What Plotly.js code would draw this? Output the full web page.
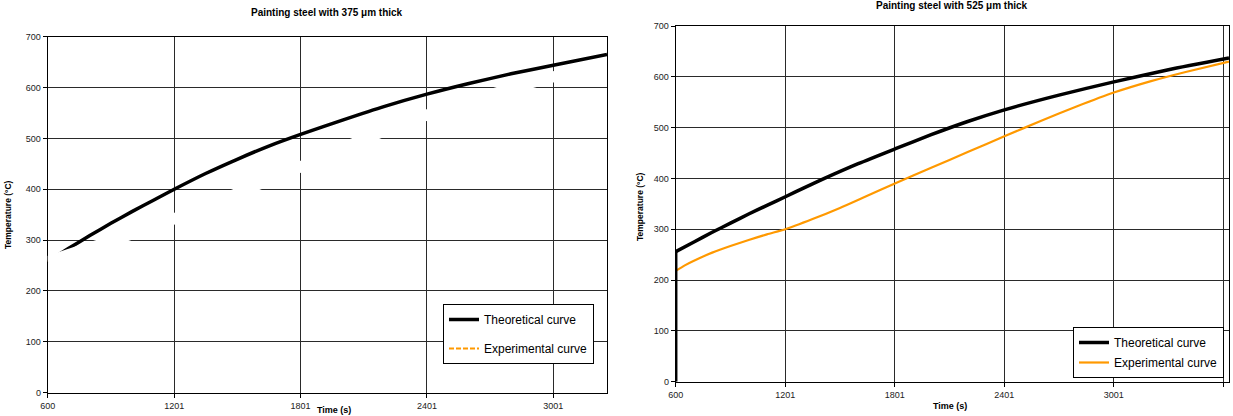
<!DOCTYPE html>
<html>
<head>
<meta charset="utf-8">
<script src="https://cdn.plot.ly/plotly-3.0.1.min.js"></script>
<style>html,body{margin:0;padding:0;background:#fff;}#chart{width:1233px;height:416px;}</style>
</head>
<body>
<div id="chart"></div>
<script>
// ---- Data ----
const leftTitle = "Painting steel with 375 μm thick";
const rightTitle = "Painting steel with 525 μm thick";
const xTitle = "Time (s)";
const yTitle = "Temperature (°C)";
const seriesNames = ["Theoretical curve", "Experimental curve"];

const timeL   = [600, 700, 800, 900, 1000, 1100, 1201, 1350, 1500, 1650, 1801, 2000, 2200, 2401, 2600, 2800, 3001, 3256];
const theoL   = [258, 284, 309, 333, 356, 378, 400, 431, 459, 485, 508, 536, 563, 587, 608, 627, 644, 665];
const expL    = [258, 272, 285, 298, 312, 327, 342, 366, 392, 418, 444, 481, 515, 546, 573, 598, 621, 644];

const timeTheoR = [600, 600, 700, 800, 900, 1000, 1100, 1201, 1300, 1409, 1600, 1801, 2000, 2200, 2401, 2700, 3001, 3300, 3632];
const theoR     = [0, 256, 275, 294, 312, 330, 347, 364, 381, 399, 429, 458, 486, 512, 535, 564, 590, 614, 637];
const timeExpR  = [600, 650, 700, 800, 900, 1000, 1100, 1201, 1350, 1500, 1650, 1801, 2000, 2200, 2401, 2600, 2800, 3001, 3200, 3400, 3632];
const expR      = [218, 229, 238, 254, 267, 279, 290, 300, 320, 342, 366, 390, 421, 452, 483, 513, 542, 569, 591, 610, 630];

const xTicksL = [600, 1201, 1801, 2401, 3001];
const xTicksR = [600, 1201, 1801, 2401, 3001, 3601];
const yTicks  = [0, 100, 200, 300, 400, 500, 600, 700];

// ---- Styles ----
const FONT = "'Liberation Sans', Arial, sans-serif";
const ORANGE = "#ff9900";
const GRID = "#2a2a2a";

const traces = [
  // left chart
  {x: timeL, y: expL, xaxis: "x", yaxis: "y", mode: "lines", name: seriesNames[1],
   line: {color: ORANGE, width: 2, dash: "5px,2px"}, legend: "legend", legendrank: 2, legendgroup: "e1"},
  {x: timeL, y: theoL, xaxis: "x", yaxis: "y", mode: "lines", name: seriesNames[0],
   line: {color: "#000", width: 3.5, shape: "spline", smoothing: 0.6}, legend: "legend", legendrank: 1, legendgroup: "t1"},
  {x: timeL, y: expL, xaxis: "x", yaxis: "y", mode: "lines", showlegend: false, hoverinfo: "skip",
   line: {color: "#fff", width: 11, shape: "spline", smoothing: 0.6}},
  // right chart
  {x: timeExpR, y: expR, xaxis: "x2", yaxis: "y2", mode: "lines", name: seriesNames[1],
   line: {color: ORANGE, width: 2.2, shape: "spline", smoothing: 0.6}, legend: "legend2", legendrank: 2, legendgroup: "e2"},
  {x: timeTheoR.slice(0, 2), y: theoR.slice(0, 2), xaxis: "x2", yaxis: "y2", mode: "lines", showlegend: false,
   line: {color: "#000", width: 3.5}, hoverinfo: "skip"},
  {x: timeTheoR.slice(1), y: theoR.slice(1), xaxis: "x2", yaxis: "y2", mode: "lines", name: seriesNames[0],
   line: {color: "#000", width: 3.5, shape: "spline", smoothing: 0.6}, legend: "legend2", legendrank: 1, legendgroup: "t2"}
];

function xax(domain, range, ticks, layer) {
  return {domain: domain, range: range, tickvals: ticks, ticktext: ticks.map(String),
    showgrid: true, gridcolor: GRID, gridwidth: 1, zeroline: false,
    showline: true, linecolor: "#000", linewidth: 1, mirror: true,
    ticks: "outside", ticklen: 4, tickcolor: "#000", layer: layer,
    tickfont: {family: FONT, size: 9, color: "#222"}, fixedrange: true};
}
function yax(domain, layer) {
  return {domain: domain, range: [0, 700], tickvals: yTicks,
    showgrid: true, gridcolor: GRID, gridwidth: 1, zeroline: false,
    showline: true, linecolor: "#000", linewidth: 1, mirror: true,
    ticks: "outside", ticklen: 4, tickcolor: "#000", layer: layer,
    tickfont: {family: FONT, size: 9, color: "#222"}, fixedrange: true};
}

const W = 1233, H = 416;
const px = v => v / W, py = v => (H - v) / H;

function ann(text, x, y, size, angle) {
  return {text: text, x: px(x), y: py(y), xref: "paper", yref: "paper",
    xanchor: "center", yanchor: "middle", showarrow: false, textangle: angle || 0,
    font: {family: FONT, size: size, color: "#000"}};
}

const layout = {
  width: W, height: H,
  margin: {l: 0, r: 0, t: 0, b: 0},
  paper_bgcolor: "#fff", plot_bgcolor: "#fff",
  font: {family: FONT, color: "#000"},
  xaxis: xax([px(47.7), px(607)], [600, 3256], xTicksL, "below traces"),
  yaxis: Object.assign(yax([1 - 392.7 / H, 1 - 36.7 / H], "below traces"), {anchor: "x"}),
  xaxis2: Object.assign(xax([px(675.7), px(1229)], [600, 3632], xTicksR, "above traces"), {anchor: "y2"}),
  yaxis2: Object.assign(yax([1 - 381.7 / H, 1 - 26 / H], "above traces"), {anchor: "x2"}),
  legend: {x: px(443), y: py(304), xanchor: "left", yanchor: "top",
    bgcolor: "#fff", bordercolor: "#000", borderwidth: 1, itemwidth: 30,
    font: {family: FONT, size: 12, color: "#000"}, traceorder: "grouped", tracegroupgap: 10},
  legend2: {x: px(1073), y: py(327), xanchor: "left", yanchor: "top",
    bgcolor: "#fff", bordercolor: "#000", borderwidth: 1, itemwidth: 30,
    font: {family: FONT, size: 12, color: "#000"}, traceorder: "grouped", tracegroupgap: 1},
  showlegend: true,
  annotations: [
    ann("<b>" + leftTitle + "</b>", 327, 12, 10),
    ann("<b>" + rightTitle + "</b>", 952, 6, 10),
    ann("<b>" + xTitle + "</b>", 334, 410, 9),
    ann("<b>" + xTitle + "</b>", 950, 406, 9),
    ann("<b>" + yTitle + "</b>", 8, 215, 8.5, -90),
    ann("<b>" + yTitle + "</b>", 640, 207, 8.5, -90)
  ]
};

Plotly.newPlot("chart", traces, layout, {displayModeBar: false, staticPlot: true});
</script>
</body>
</html>
